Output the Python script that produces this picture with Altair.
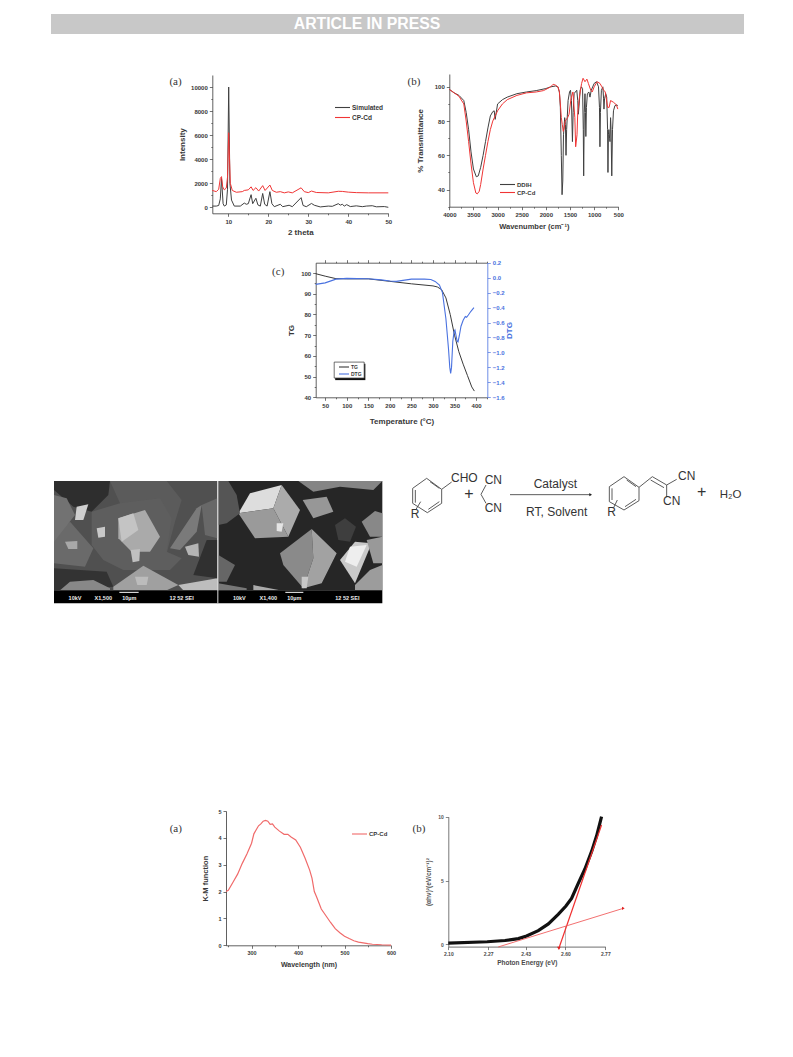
import altair as alt
import pandas as pd

CANVAS_W, CANVAS_H = 777, 1000
INK = "#383838"
SANS = "Liberation Sans"

# ---------- panel (a): XRD ----------
xrd_sim_x = [6,7,7.6,8,8.3,8.7,9,9.5,9.8,10.1,10.4,10.8,11.5,13,14,14.5,15,15.7,16.1,16.9,17.4,18,18.6,19.1,19.7,20.4,20.9,21.5,23,23.6,25.2,26,28.2,28.7,29.5,30.8,31.5,33,35,36,37.5,38,38.5,39,39.6,40.5,42,43.5,44.5,46,47,49,50]
xrd_sim_y = [100,100,150,700,2400,300,100,200,1500,10000,2000,600,100,100,350,250,300,1050,300,750,200,100,1150,250,100,1300,300,50,250,50,170,50,800,150,50,320,170,30,100,80,300,180,250,100,220,60,120,50,100,130,40,60,0]
xrd_cp_x = [6,7,7.6,8,8.3,8.6,9,9.5,9.8,10.1,10.5,11,12,13.5,14,15,15.7,16.2,16.9,17.6,18.6,19.2,20.4,21,22,23,24,25,26,28.2,29,30,30.8,32,35,37.5,38.5,40,42,45,50]
xrd_cp_y = [1400,1300,1500,2400,2550,1700,1450,1600,2500,6200,2000,1400,1250,1300,1400,1450,1700,1400,1630,1350,1800,1400,1850,1400,1250,1300,1200,1280,1200,1620,1300,1220,1350,1230,1200,1330,1320,1260,1220,1200,1200]

# ---------- panel (b): FTIR ----------
ir_ddih_x = [4000,3900,3800,3700,3650,3600,3550,3500,3440,3400,3350,3300,3250,3200,3150,3100,3070,3050,3000,2900,2800,2600,2400,2200,2000,1900,1800,1750,1720,1700,1680,1665,1650,1635,1610,1595,1583,1570,1540,1510,1490,1470,1450,1435,1415,1390,1360,1340,1328,1310,1290,1265,1240,1225,1217,1205,1190,1180,1172,1160,1140,1110,1087,1060,1000,950,910,890,880,870,850,820,805,797,785,760,740,722,714,705,695,680,672,660,650,635,620,600,570,530,510]
ir_ddih_y = [98.5,96.5,95,92,85,75,62,52,47.5,48,53,60,68,76,83,85.5,86,81,90,92.5,94,96,97,97.8,99,100,100.5,100,97,88,60,37,45,72,82,78,60,75,92,97,98,92,68,85,96,97,98,92,84,90,98,100,99,75,48,85,96,85,71,88,96,97,94,98,102,103,100,88,65,85,98,100,93,87,93,96,94,75,50,72,75,70,68,82,75,48,75,86,89,89.5,89]
ir_cp_x = [4000,3800,3700,3650,3600,3550,3500,3450,3420,3380,3350,3300,3250,3200,3150,3100,3050,3000,2900,2800,2600,2400,2200,2050,2000,1900,1850,1800,1750,1720,1700,1680,1660,1640,1620,1600,1550,1520,1480,1440,1400,1383,1355,1340,1300,1260,1230,1190,1150,1120,1070,1040,1000,940,880,840,800,770,720,690,660,600,540,510]
ir_cp_y = [98.5,94.5,90,80,68,55,44,38,37.5,39,43,52,60,68,75,80,83,86,90,92.5,95,96.5,97,97.8,98.5,100,101.5,101,100,97,90,82,78,74,76,80,82,84,93,97,82,65,72,85,95,102,105,103,104.5,102,98,97,100,103,102,100,98,97,88,88,92,91,89.5,87]

# ---------- panel (c): thermal ----------
tg_x = [28,50,75,100,150,200,250,300,310,320,330,340,350,360,370,380,390,396]
tg_y = [99.7,98.5,97.3,97.2,97.2,96,94.8,93.8,93.3,92,88,80,70,62,56,50.5,45,43]
dtg_x = [28,50,75,100,150,180,200,215,250,280,295,305,315,322,330,336,339,341,343,346,349,351,353,356,358,361,365,370,375,378,382,388,395]
dtg_y = [-0.09,-0.07,-0.02,-0.01,-0.015,-0.03,-0.045,-0.05,-0.02,-0.02,-0.025,-0.05,-0.1,-0.2,-0.55,-0.95,-1.2,-1.28,-1.2,-0.85,-0.72,-0.7,-0.76,-0.85,-0.86,-0.78,-0.65,-0.57,-0.52,-0.53,-0.5,-0.45,-0.4]

# ---------- panel (d): K-M ----------
km_x = [245,250,260,270,280,290,300,305,310,315,320,325,330,335,340,345,350,360,370,378,385,395,405,415,425,430,435,440,450,460,470,480,490,500,510,520,530,540,550,560,580,600]
km_y = [2.0,2.05,2.35,2.65,3.05,3.4,3.8,4.15,4.3,4.45,4.52,4.62,4.65,4.62,4.5,4.52,4.4,4.25,4.13,4.13,4.03,3.92,3.65,3.25,2.8,2.5,2.0,1.8,1.35,1.1,0.85,0.62,0.47,0.34,0.25,0.17,0.12,0.09,0.06,0.04,0.02,0.01]

# ---------- panel (e): Tauc ----------
tauc_x = [2.10,2.266,2.342,2.399,2.434,2.484,2.527,2.569,2.602,2.626,2.655,2.683,2.712,2.733,2.754]
tauc_y = [0.1,0.2,0.3,0.45,0.65,1.07,1.6,2.35,3.0,3.6,4.8,5.9,7.3,8.5,10]
tangent_steep_x = [2.572,2.754]
tangent_steep_y = [-0.31,9.35]
tangent_base_x = [2.313,2.847]
tangent_base_y = [-0.21,2.82]
gap_x = [2.60,2.60]
gap_y = [-0.18,1.43]

# ---------- reaction scheme, in its own drawing units ----------
bond_x1 = [125,80,38,38,82,125,125,90,46,85,62,258,243,717,672,628,628,672,717,717,757,800,752,800,680,636,675,652,330]
bond_y1 = [88,55,85,130,158,130,88,65,90,148,125,75,103,82,50,80,125,150,122,82,50,75,60,75,60,85,140,120,104]
bond_x2 = [80,38,38,82,125,125,155,118,46,118,48,243,258,672,628,628,672,717,717,757,800,830,792,800,708,636,708,640,572]
bond_y2 = [55,85,130,158,130,88,66,85,128,125,148,103,130,50,80,125,150,122,82,50,75,58,83,112,80,120,118,145,104]
scheme_text = ["CHO","+","CN","CN","Catalyst","RT, Solvent","R","R","CN","CN","+","H₂O"]
scheme_tx = [193,207,280,280,466,470,45,635,860,815,905,992]
scheme_ty = [54,103,60,145,72,157,161,155,48,122,97,104]
scheme_ts = [12,16,12,12,12,12,12,12,12,12,16,11.5]

# ---------- micrographs, greyscale facets in crop units ----------
sem_fills = ["#505050","#2e2e2e","#5b5b5b","#5e5e5e","#6a6a6a","#727272","#aaaaaa","#c4c4c4","#333333","#a0a0a0","#bdbdbd","#686868","#7a7a7a","#303030","#888888",
             "#262626","#dddddd","#ababab","#9a9a9a","#8a8a8a","#a2a2a2","#c9c9c9","#eeeeee","#858585","#979797","#3e3e3e","#888888","#999999","#9c9c9c","#555555","#666666","#777777","#aaaaaa",
             "#c8c8c8","#c0c0c0","#cfcfcf","#b5b5b5","#a8a8a8","#bcbcbc","#e4e4e4","#c8c8c8","#000000","#dddddd"]
sem_polys = [
 [(12,18),(502,18),(502,346),(12,346)],
 [(12,18),(180,18),(175,60),(125,110),(70,95),(12,45)],
 [(180,18),(350,18),(395,75),(375,140),(350,235),(310,245),(210,85)],
 [(125,110),(210,85),(330,70),(365,130),(350,230),(395,250),(360,285),(220,285),(160,255),(125,210)],
 [(12,180),(60,140),(130,220),(105,275),(12,265)],
 [(12,60),(50,70),(75,120),(12,200)],
 [(205,130),(285,105),(330,185),(300,230),(245,230),(205,190)],
 [(205,130),(250,115),(265,165),(215,200)],
 [(12,280),(170,290),(190,335),(12,346)],
 [(190,335),(280,272),(385,330),(350,346),(190,346)],
 [(385,330),(502,310),(502,346),(400,346)],
 [(455,90),(502,70),(502,190),(465,180)],
 [(360,220),(440,100),(455,90),(440,170),(390,225)],
 [(470,195),(502,195),(502,310),(430,300)],
 [(30,346),(60,320),(130,315),(180,340),(180,346)],
 [(505,18),(997,18),(997,346),(505,346)],
 [(600,55),(695,30),(670,100),(565,115)],
 [(695,30),(750,105),(715,185),(670,100)],
 [(565,115),(670,100),(715,185),(615,190)],
 [(690,235),(785,162),(790,250),(760,340),(700,270)],
 [(785,162),(860,235),(815,325),(760,340),(790,250)],
 [(870,255),(915,200),(965,205),(915,325)],
 [(900,215),(950,210),(920,275),(885,260)],
 [(745,18),(997,18),(970,45),(870,35),(790,50)],
 [(758,75),(830,65),(850,110),(790,130)],
 [(855,150),(885,130),(918,155),(900,200),(865,195)],
 [(935,140),(975,108),(997,115),(997,185),(960,185)],
 [(950,195),(997,185),(997,265),(970,265)],
 [(915,330),(960,285),(997,270),(997,346),(915,346)],
 [(505,18),(535,18),(560,60),(570,115),(530,145),(505,150)],
 [(505,240),(555,270),(530,320),(505,320)],
 [(505,325),(590,340),(590,346),(505,346)],
 [(610,330),(690,346),(610,346)],
 [(140,160),(165,155),(165,185),(145,188)],
 [(242,225),(270,222),(268,258),(248,262)],
 [(80,95),(115,88),(100,135),(75,135)],
 [(405,215),(445,205),(447,245),(415,240)],
 [(45,200),(82,198),(82,222),(55,222)],
 [(255,305),(295,305),(290,330),(262,330)],
 [(680,145),(700,145),(695,170),(680,168)],
 [(755,305),(775,305),(770,340),(755,340)],
 [(12,346),(997,346),(997,385),(12,385)],
 [(502,18),(505,18),(505,385),(502,385)],
]
sem_text = ["10kV","X1,500","10µm","12 52 SEI","10kV","X1,400","10µm","12 52 SEI"]
sem_tx = [75,160,238,395,568,655,733,892]
sem_ty = [368]*8
scalebar_x1 = [208,706]
scalebar_x2 = [266,760]
scalebar_y = [352,352]

panel_letters = ["(a)","(b)","(c)","(a)","(b)"]


def pad(v):
    return v - 8


def sx(domain, left, right):
    return alt.Scale(domain=domain, range=[pad(left), pad(right)], nice=False, zero=False)


def sy(domain, bottom, top):
    return alt.Scale(domain=domain, range=[pad(bottom), pad(top)], nice=False, zero=False)


def hatched(values, major_test, fmt, title, orient, offset, color=INK, title_pad=6, major_len=3, minor_len=1.5, labels=True, title_size=8, label_size=6, title_angle=None):
    cfg = dict(
        values=values, format=fmt, title=title, orient=orient, offset=offset, grid=False,
        labelExpr=f"({major_test}) ? datum.label : ''" if labels else "''",
        tickSize={"condition": {"test": major_test, "value": major_len}, "value": minor_len},
        labelFont=SANS, labelFontSize=label_size, labelFontWeight="bold", labelColor=color,
        labelOverlap=False, labelFlush=False, labelPadding=2, labelBound=False,
        titleFont=SANS, titleFontSize=title_size, titleFontWeight="bold", titleColor=color,
        titlePadding=title_pad, domainColor=color, tickColor=color, domainWidth=0.8, tickWidth=0.7,
    )
    if title_angle is not None:
        cfg["titleAngle"] = title_angle
    return alt.Axis(**cfg)


def bottom_offset(y):
    return -(CANVAS_H - pad(y))


def left_offset(x):
    return -pad(x)


def right_offset(x):
    return -(CANVAS_W - pad(x))


def top_offset(y):
    return -pad(y)


def legend_at(x, y, size=6.5, sym=225):
    return alt.Legend(title=None, orient="none", legendX=pad(x), legendY=pad(y), symbolType="stroke",
                      symbolSize=sym, symbolStrokeWidth=1.1, labelFont=SANS, labelFontSize=size,
                      labelFontWeight="bold", labelColor=INK, labelOffset=1, padding=0, zindex=2)


def series(xs, ys, name, colour, xscale, yscale, xaxis, yaxis, legend, width=1.0):
    return alt.Chart(pd.DataFrame({"x": xs, "y": ys, "s": name})).mark_line(strokeWidth=width).encode(
        x=alt.X("x:Q", scale=xscale, axis=xaxis),
        y=alt.Y("y:Q", scale=yscale, axis=yaxis),
        color=alt.Color("s:N", scale=alt.Scale(domain=[name], range=[colour]), legend=legend))


def letter(text, x, y, xscale, yscale):
    return alt.Chart(pd.DataFrame({"x": [x], "y": [y], "t": [text]})).mark_text(
        font="Liberation Serif", fontSize=11, color="#333333", align="center", baseline="middle"
    ).encode(x=alt.X("x:Q", scale=xscale, axis=None), y=alt.Y("y:Q", scale=yscale, axis=None), text="t:N")


layers = []

# header bar
hdr_x = sx([0, 1], 51, 744)
hdr_y = sy([0, 1], 34, 14)
layers.append(alt.Chart(pd.DataFrame({"a": [0], "b": [1], "c": [0], "d": [1]})).mark_rect(color="#c8c8c8").encode(
    x=alt.X("a:Q", scale=hdr_x, axis=None), x2="b:Q", y=alt.Y("c:Q", scale=hdr_y, axis=None), y2="d:Q"))
layers.append(alt.Chart(pd.DataFrame({"x": [0.456], "y": [0.5], "t": ["ARTICLE IN PRESS"]})).mark_text(
    font=SANS, fontSize=15.8, fontWeight="bold", color="white").encode(
    x=alt.X("x:Q", scale=hdr_x, axis=None), y=alt.Y("y:Q", scale=hdr_y, axis=None), text="t:N"))

# (a)
ax = sx([6, 50], 212.3, 388.3)
ay = sy([-500, 11000], 213.3, 75)
layers.append(series(xrd_sim_x, xrd_sim_y, "Simulated", "#404040", ax, ay,
    hatched(list(range(10, 51, 5)), "datum.value % 10 === 0", "d", "2 theta", "bottom", bottom_offset(213.3), title_pad=4),
    hatched(list(range(0, 11000, 1000)), "datum.value % 2000 === 0", "d", "Intensity", "left", left_offset(212.3), title_pad=4),
    legend_at(334, 99)))
layers.append(series(xrd_cp_x, xrd_cp_y, "CP-Cd", "#f03535", ax, ay, None, None, legend_at(334, 109)))
layers.append(letter(panel_letters[0], -3.2, 10390, ax, ay))

# (b)
bx = sx([4000, 500], 449.3, 618.3)
by = sy([30, 107.5], 206.7, 74)
layers.append(series(ir_ddih_x, ir_ddih_y, "DDIH", "#404040", bx, by,
    hatched(list(range(500, 4001, 250)), "datum.value % 500 === 0", "d", "Wavenumber (cm⁻¹)", "bottom", bottom_offset(206.7), title_pad=5, title_size=7.5),
    hatched(list(range(30, 106, 10)), "datum.value % 20 === 0 && datum.value > 30", "d", "% Transmittance", "left", left_offset(449.3), title_pad=10),
    legend_at(499, 176, 6)))
layers.append(series(ir_cp_x, ir_cp_y, "CP-Cd", "#f03535", bx, by, None, None, legend_at(499, 184, 6)))
layers.append(letter(panel_letters[1], 4731, 102.7, bx, by))

# (c)
cx = sx([28, 426], 315.7, 487.3)
cy = sy([40, 105], 397.3, 262.7)
cy2 = sy([-1.6, 0.2], 397.3, 262.7)
BLUE = "#4a72e0"
box_x1, box_x2 = [70.9], [140.4]
box_y1, box_y2 = [57], [49.3]
layers.append(alt.Chart(pd.DataFrame({"a": [73.2], "b": [143.2], "c": [56.2], "d": [48.3]})).mark_rect(color="#111111").encode(
    x=alt.X("a:Q", scale=cx, axis=None), x2="b:Q", y=alt.Y("c:Q", scale=cy, axis=None), y2="d:Q"))
layers.append(alt.Chart(pd.DataFrame({"a": box_x1, "b": box_x2, "c": box_y1, "d": box_y2})).mark_rect(color="white", stroke="#333333", strokeWidth=0.7).encode(
    x=alt.X("a:Q", scale=cx, axis=None), x2="b:Q", y=alt.Y("c:Q", scale=cy, axis=None), y2="d:Q"))
layers.append(series(tg_x, tg_y, "TG", "#3a3a3a", cx, cy,
    hatched(list(range(50, 426, 25)), "datum.value % 50 === 0", "d", "Temperature (°C)", "bottom", bottom_offset(397.3), title_pad=9),
    hatched(list(range(40, 105, 5)), "datum.value % 10 === 0", "d", "TG", "left", left_offset(315.7), title_pad=5),
    legend_at(338, 361, 5, 100)))
layers.append(series(dtg_x, dtg_y, "DTG", BLUE, cx, cy2,
    hatched(list(range(50, 426, 25)), "datum.value % 50 === 0", "d", None, "top", top_offset(262.7), labels=False),
    hatched([round(-1.6 + 0.2 * i, 1) for i in range(10)], "true", ".1f", "DTG", "right", right_offset(487.3), color=BLUE, title_pad=9, title_angle=270),
    legend_at(338, 368, 5, 100), 1.1))
layers.append(letter(panel_letters[2], -59, 100.5, cx, cy))

# micrographs
features = [
    {"type": "Feature", "properties": {"g": g},
     "geometry": {"type": "Polygon", "coordinates": [[list(p) for p in poly] + [list(poly[0])]]}}
    for g, poly in zip(sem_fills, sem_polys)
]
layers.append(alt.Chart(alt.Data(values=features)).mark_geoshape(strokeWidth=0).encode(
    color=alt.Color("properties.g:N", scale=None)
).project(type="identity", scale=1 / 3, translate=[42, 467]))
semx = sx([0, 1020], 50, 390)
semy = sy([0, 405], 475, 610)
layers.append(alt.Chart(pd.DataFrame({"x": scalebar_x1, "x2": scalebar_x2, "y": scalebar_y})).mark_rule(color="white", strokeWidth=1).encode(
    x=alt.X("x:Q", scale=semx, axis=None), x2="x2:Q", y=alt.Y("y:Q", scale=semy, axis=None)))
layers.append(alt.Chart(pd.DataFrame({"x": sem_tx, "y": sem_ty, "t": sem_text})).mark_text(
    font=SANS, fontSize=5.5, fontWeight="bold", color="#eeeeee").encode(
    x=alt.X("x:Q", scale=semx, axis=None), y=alt.Y("y:Q", scale=semy, axis=None), text="t:N"))

# scheme
scx = sx([0, 360 * 3], 400, 760)
scy = sy([0, 80 * 3], 460, 540)
layers.append(alt.Chart(pd.DataFrame({"x": bond_x1, "y": bond_y1, "x2": bond_x2, "y2": bond_y2})).mark_rule(color="#4a4a4a", strokeWidth=0.9).encode(
    x=alt.X("x:Q", scale=scx, axis=None), x2="x2:Q", y=alt.Y("y:Q", scale=scy, axis=None), y2="y2:Q"))
layers.append(alt.Chart(pd.DataFrame({"x": [572], "y": [104]})).mark_point(shape="triangle-right", filled=True, size=10, color="#222222", opacity=1).encode(
    x=alt.X("x:Q", scale=scx, axis=None), y=alt.Y("y:Q", scale=scy, axis=None)))
layers.append(alt.Chart(pd.DataFrame({"x": scheme_tx, "y": scheme_ty, "t": scheme_text, "s": scheme_ts})).mark_text(
    font=SANS, color="#333333").encode(
    x=alt.X("x:Q", scale=scx, axis=None), y=alt.Y("y:Q", scale=scy, axis=None), text="t:N",
    size=alt.Size("s:Q", scale=None, legend=None)))

# (d)
dx = sx([245, 600], 226, 391)
dy = sy([0, 5], 945.3, 811)
RED2 = "#f06a6a"
layers.append(series(km_x, km_y, "CP-Cd", RED2, dx, dy,
    hatched(list(range(250, 601, 50)), "datum.value % 100 === 0", "d", "Wavelength (nm)", "bottom", bottom_offset(945.3), title_pad=5, title_size=7, label_size=5.5),
    hatched([i / 2 for i in range(11)], "datum.value % 1 === 0", "d", "K-M function", "left", left_offset(226), title_pad=8, title_size=7.5, label_size=5.5),
    legend_at(351, 825.5, 6), 1.2))
layers.append(letter(panel_letters[3], 137, 4.33, dx, dy))

# (e)
ex = sx([2.10, 2.77], 448.3, 605.3)
ey = sy([-0.18, 10], 946.6, 816.7)
layers.append(alt.Chart(pd.DataFrame({"x": gap_x, "y": gap_y})).mark_line(color="#777777", strokeWidth=0.5).encode(
    x=alt.X("x:Q", scale=ex, axis=None), y=alt.Y("y:Q", scale=ey, axis=None)))
layers.append(alt.Chart(pd.DataFrame({"x": tauc_x, "y": tauc_y})).mark_line(color="#111111", strokeWidth=3.2).encode(
    x=alt.X("x:Q", scale=ex, axis=hatched([2.10, 2.27, 2.43, 2.60, 2.77], "true", ".2f", "Photon Energy (eV)", "bottom", bottom_offset(946.6), title_pad=3, title_size=6.5, label_size=5, color="#4a4a4a")),
    y=alt.Y("y:Q", scale=ey, axis=hatched([0, 5, 10], "true", "d", "(αhν)²(eV/cm⁻¹)²", "left", left_offset(448.3), title_pad=6, title_size=6.5, label_size=5, color="#555555"))))
layers.append(alt.Chart(pd.DataFrame({"x": tangent_steep_x, "y": tangent_steep_y})).mark_line(color="#f03030", strokeWidth=1.2).encode(
    x=alt.X("x:Q", scale=ex, axis=None), y=alt.Y("y:Q", scale=ey, axis=None)))
layers.append(alt.Chart(pd.DataFrame({"x": tangent_base_x, "y": tangent_base_y})).mark_line(color="#f06060", strokeWidth=0.9).encode(
    x=alt.X("x:Q", scale=ex, axis=None), y=alt.Y("y:Q", scale=ey, axis=None)))
layers.append(alt.Chart(pd.DataFrame({"x": [tangent_steep_x[0]], "y": [tangent_steep_y[0]]})).mark_point(shape="triangle-down", filled=True, size=14, color="#e02020", opacity=1).encode(
    x=alt.X("x:Q", scale=ex, axis=None), y=alt.Y("y:Q", scale=ey, axis=None)))
layers.append(alt.Chart(pd.DataFrame({"x": [tangent_base_x[1]], "y": [tangent_base_y[1]]})).mark_point(shape="triangle-right", filled=True, size=10, color="#e02020", opacity=1).encode(
    x=alt.X("x:Q", scale=ex, axis=None), y=alt.Y("y:Q", scale=ey, axis=None)))
layers.append(letter(panel_letters[4], 1.975, 9.04, ex, ey))

chart = alt.layer(*layers).resolve_scale(x="independent", y="independent", color="independent").properties(
    width=CANVAS_W, height=CANVAS_H, padding=0
).configure_view(stroke=None)

chart.save("out.html", embed_options={"renderer": "svg", "actions": False})
